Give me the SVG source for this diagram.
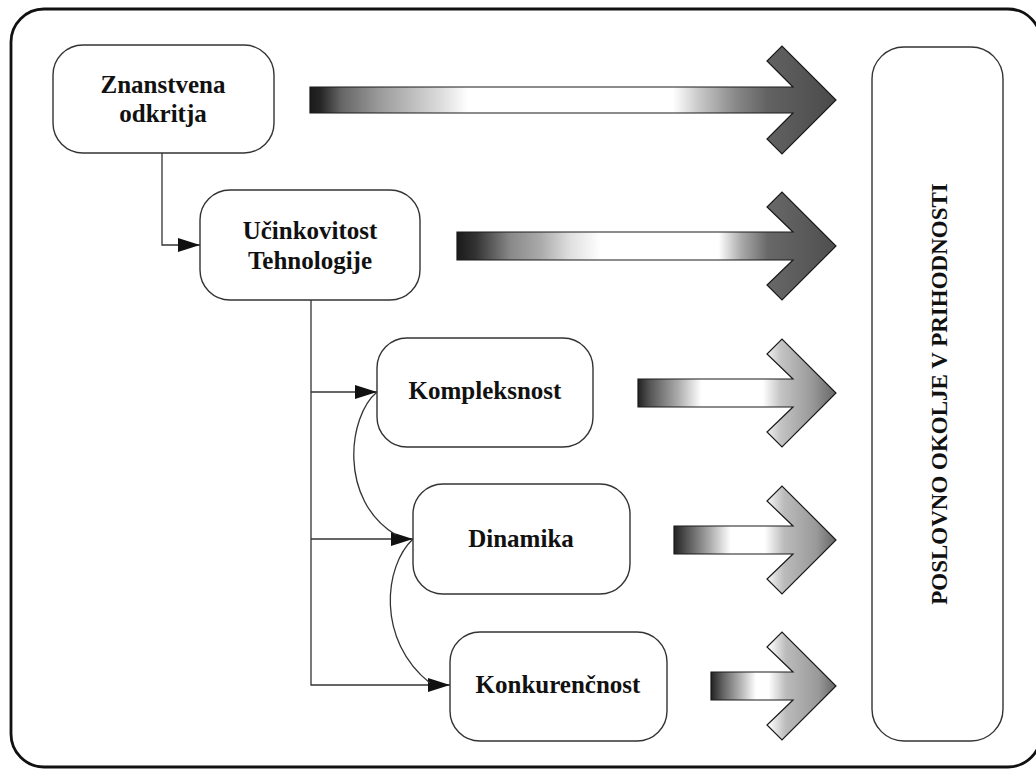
<svg xmlns="http://www.w3.org/2000/svg" width="1036" height="771" viewBox="0 0 1036 771">
  <style>
    .frame { fill: none; stroke: #111; stroke-width: 2.8; }
    .node rect { fill: #fff; stroke: #333; stroke-width: 1.4; }
    .node text { font-family: "Liberation Serif", "Times New Roman", serif; font-weight: bold; font-size: 25px; fill: #111; text-anchor: middle; }
    .conn { fill: none; stroke: #333; stroke-width: 1.3; }
    .flow { stroke: #1a1a1a; stroke-width: 1.2; stroke-linejoin: miter; }
  </style>
  <defs>
    <marker id="tri" markerUnits="userSpaceOnUse" markerWidth="22" markerHeight="14" refX="22" refY="7" orient="auto">
      <path d="M0,0 L22,7 L0,14 z" fill="#111"/>
    </marker>
    <!-- shaded fills for the flow arrows: dark tail, white middle, grey head -->
    <linearGradient id="g1" gradientUnits="userSpaceOnUse" x1="310" y1="0" x2="836" y2="0">
      <stop offset="0" stop-color="#1a1a1a"/>
      <stop offset="0.02" stop-color="#262626"/>
      <stop offset="0.06" stop-color="#666"/>
      <stop offset="0.13" stop-color="#999"/>
      <stop offset="0.25" stop-color="#ddd"/>
      <stop offset="0.3" stop-color="#fff"/>
      <stop offset="0.69" stop-color="#fff"/>
      <stop offset="0.74" stop-color="#c8c8c8"/>
      <stop offset="0.81" stop-color="#888"/>
      <stop offset="0.87" stop-color="#626262"/>
      <stop offset="1" stop-color="#4a4a4a"/>
    </linearGradient>
    <linearGradient id="g2" gradientUnits="userSpaceOnUse" x1="457" y1="0" x2="836" y2="0">
      <stop offset="0" stop-color="#1a1a1a"/>
      <stop offset="0.05" stop-color="#333"/>
      <stop offset="0.14" stop-color="#888"/>
      <stop offset="0.22" stop-color="#aaa"/>
      <stop offset="0.3" stop-color="#e0e0e0"/>
      <stop offset="0.38" stop-color="#fff"/>
      <stop offset="0.69" stop-color="#fff"/>
      <stop offset="0.75" stop-color="#aaa"/>
      <stop offset="0.82" stop-color="#686868"/>
      <stop offset="1" stop-color="#4e4e4e"/>
    </linearGradient>
    <linearGradient id="g3" gradientUnits="userSpaceOnUse" x1="638" y1="0" x2="836" y2="0">
      <stop offset="0" stop-color="#222"/>
      <stop offset="0.06" stop-color="#555"/>
      <stop offset="0.2" stop-color="#aaa"/>
      <stop offset="0.32" stop-color="#fff"/>
      <stop offset="0.63" stop-color="#fff"/>
      <stop offset="0.72" stop-color="#c4c4c4"/>
      <stop offset="0.88" stop-color="#999"/>
      <stop offset="1" stop-color="#666"/>
    </linearGradient>
    <linearGradient id="g4" gradientUnits="userSpaceOnUse" x1="674" y1="0" x2="836" y2="0">
      <stop offset="0" stop-color="#222"/>
      <stop offset="0.08" stop-color="#555"/>
      <stop offset="0.22" stop-color="#aaa"/>
      <stop offset="0.35" stop-color="#fff"/>
      <stop offset="0.56" stop-color="#fff"/>
      <stop offset="0.68" stop-color="#bbb"/>
      <stop offset="0.88" stop-color="#999"/>
      <stop offset="1" stop-color="#666"/>
    </linearGradient>
    <linearGradient id="g5" gradientUnits="userSpaceOnUse" x1="711" y1="0" x2="836" y2="0">
      <stop offset="0" stop-color="#222"/>
      <stop offset="0.1" stop-color="#666"/>
      <stop offset="0.25" stop-color="#bbb"/>
      <stop offset="0.36" stop-color="#fff"/>
      <stop offset="0.46" stop-color="#fff"/>
      <stop offset="0.6" stop-color="#bbb"/>
      <stop offset="0.86" stop-color="#999"/>
      <stop offset="1" stop-color="#666"/>
    </linearGradient>
  </defs>

  <!-- outer frame -->
  <rect class="frame" x="11" y="9" width="1030" height="758" rx="33" ry="33"/>

  <!-- connectors -->
  <g id="connectors">
    <path class="conn" d="M162,153 V245 H200" marker-end="url(#tri)"/>
    <path class="conn" d="M311,300 V685 H450" marker-end="url(#tri)"/>
    <path class="conn" d="M311,392 H377" marker-end="url(#tri)"/>
    <path class="conn" d="M311,539 H413" marker-end="url(#tri)"/>
    <path class="conn" d="M377,392 C348,416 338,500 396,535"/>
    <path class="conn" d="M413,539 C384,566 376,640 430,683"/>
  </g>

  <!-- flow arrows towards the business environment -->
  <g id="flows">
    <path class="flow" fill="url(#g1)" d="M310,87 H793 L767,61 L782,46 L836,100 L782,154 L767,139 L793,113 H310 Z"/>
    <path class="flow" fill="url(#g2)" d="M457,232 H793 L767,207 L782,192 L836,246 L782,300 L767,285 L793,260 H457 Z"/>
    <path class="flow" fill="url(#g3)" d="M638,379 H793 L767,354 L782,339 L836,393 L782,447 L767,432 L793,407 H638 Z"/>
    <path class="flow" fill="url(#g4)" d="M674,526 H793 L767,501 L782,486 L836,540 L782,594 L767,579 L793,554 H674 Z"/>
    <path class="flow" fill="url(#g5)" d="M711,672 H793 L767,647 L782,632 L836,686 L782,740 L767,725 L793,700 H711 Z"/>
  </g>

  <g id="znanstvena" class="node">
    <rect x="53" y="45" width="221" height="108" rx="30" ry="30"/>
    <text x="163" y="93">Znanstvena</text>
    <text x="163" y="122">odkritja</text>
  </g>
  <g id="ucinkovitost" class="node">
    <rect x="200" y="190" width="220" height="110" rx="30" ry="30"/>
    <text x="310" y="239">Učinkovitost</text>
    <text x="310" y="269">Tehnologije</text>
  </g>
  <g id="kompleksnost" class="node">
    <rect x="377" y="338" width="216" height="109" rx="30" ry="30"/>
    <text x="485" y="399">Kompleksnost</text>
  </g>
  <g id="dinamika" class="node">
    <rect x="413" y="484" width="217" height="110" rx="30" ry="30"/>
    <text x="521" y="547">Dinamika</text>
  </g>
  <g id="konkurencnost" class="node">
    <rect x="450" y="632" width="217" height="109" rx="30" ry="30"/>
    <text x="558" y="693">Konkurenčnost</text>
  </g>
  <g id="poslovno-okolje" class="node">
    <rect x="872" y="47" width="131" height="694" rx="32" ry="32"/>
    <text transform="translate(947,394) rotate(-90)" style="font-size:23px">POSLOVNO OKOLJE V PRIHODNOSTI</text>
  </g>
</svg>
